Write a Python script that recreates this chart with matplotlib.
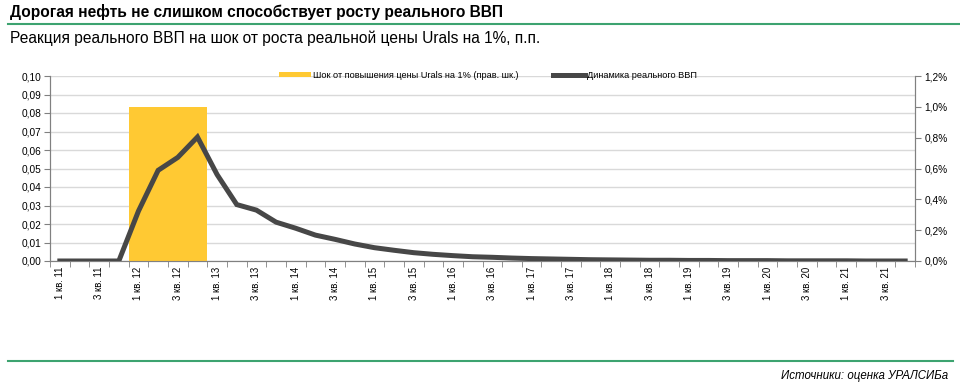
import matplotlib.pyplot as plt
from matplotlib.ticker import FixedLocator, FuncFormatter
import numpy as np

plt.rcParams['font.family'] = ['Liberation Sans', 'DejaVu Sans']

# quarters 1 кв. 11 ... 4 кв. 21
years = list(range(11, 22))
quarters = [f"{q} кв. {y}" for y in years for q in (1, 2, 3, 4)]

# real GDP response, p.p. (left axis)
gdp = [0.0, 0.0, 0.0, 0.0, 0.027, 0.049, 0.056, 0.067, 0.0467, 0.0305, 0.0275, 0.021,
       0.0177, 0.014, 0.0117, 0.0092, 0.0072, 0.0058, 0.0045, 0.0036, 0.0029, 0.0023,
       0.002, 0.0016, 0.0013, 0.0011, 0.0009, 0.0007, 0.0006, 0.0005, 0.0004, 0.0004,
       0.0003, 0.0003, 0.0002, 0.0002, 0.0002, 0.0001, 0.0001, 0.0001, 0.0001, 0.0, 0.0, 0.0]

# Urals shock, % (right axis)
shock = [0, 0, 0, 0, 1.0, 1.0, 1.0, 1.0] + [0] * 36

x = np.arange(len(quarters))

fig = plt.figure(figsize=(9.6, 3.88), dpi=100)
ax = fig.add_axes([50 / 960, 1 - 261 / 388, 865 / 960, 185 / 388])
ax2 = ax.twinx()

ax.set_xlim(-0.5, len(quarters) - 0.5)
ax.set_ylim(0, 0.1)
ax2.set_ylim(0, 1.2)

ax.set_yticks(np.arange(0, 0.101, 0.01))
ax.yaxis.set_major_formatter(FuncFormatter(lambda v, p: f"{v:.2f}".replace('.', ',')))
ax2.set_yticks(np.arange(0, 1.21, 0.2))
ax2.yaxis.set_major_formatter(FuncFormatter(lambda v, p: f"{v:.1f}".replace('.', ',') + '%'))
ax.grid(axis='y', color='#d9d9d9', linewidth=1)
ax.set_axisbelow(True)

bars = ax2.bar(x, shock, width=1.0, color='#FFC933', zorder=1,
               label='Шок от повышения цены Urals на 1% (прав. шк.)')
line, = ax2.plot(x, gdp, color='#474747', linewidth=3.6, transform=ax.transData,
                 zorder=3, solid_joinstyle='miter', label='Динамика реального ВВП')

# x ticks: labels every second quarter, tick marks at quarter borders
ax.set_xticks(x[::2])
ax.set_xticklabels(quarters[::2], rotation=90, fontsize=6.9)
ax.xaxis.set_minor_locator(FixedLocator(np.arange(-0.5, len(quarters), 1)))
ax.tick_params(axis='x', which='major', length=0, pad=4)
ax.tick_params(axis='x', which='minor', length=4, color='#808080')
ax.tick_params(axis='y', labelsize=7.3, length=4, color='#808080', pad=2)
ax2.tick_params(axis='y', labelsize=7.3, length=4, color='#808080', pad=3)

for a in (ax, ax2):
    a.spines['top'].set_visible(False)
    a.spines['left'].set_color('#808080')
    a.spines['right'].set_color('#808080')
    a.spines['bottom'].set_color('#808080')

leg = ax.legend([bars, line], [bars.get_label(), line.get_label()], ncol=2, frameon=False,
                fontsize=6.6, loc='center', bbox_to_anchor=(0.506, 1.005),
                handlelength=3.5, handletextpad=0.2, columnspacing=3.8, handleheight=0.45)

fig.text(10 / 960, 1 - 12 / 388, 'Дорогая нефть не слишком способствует росту реального ВВП',
         fontsize=11.2, fontweight='bold', va='center')
fig.add_artist(plt.Line2D([8 / 960, 1], [1 - 24 / 388] * 2, color='#3DA370', linewidth=1.5))
fig.text(10 / 960, 1 - 38 / 388, 'Реакция реального ВВП на шок от роста реальной цены Urals на 1%, п.п.',
         fontsize=11.2, va='center')
fig.add_artist(plt.Line2D([8 / 960, 953 / 960], [1 - 361 / 388] * 2, color='#3DA370', linewidth=1.5))
fig.text(948 / 960, 1 - 376 / 388, 'Источники: оценка УРАЛСИБа', fontsize=8.3, style='italic',
         ha='right', va='center')

fig.savefig('out.png', dpi=100)
